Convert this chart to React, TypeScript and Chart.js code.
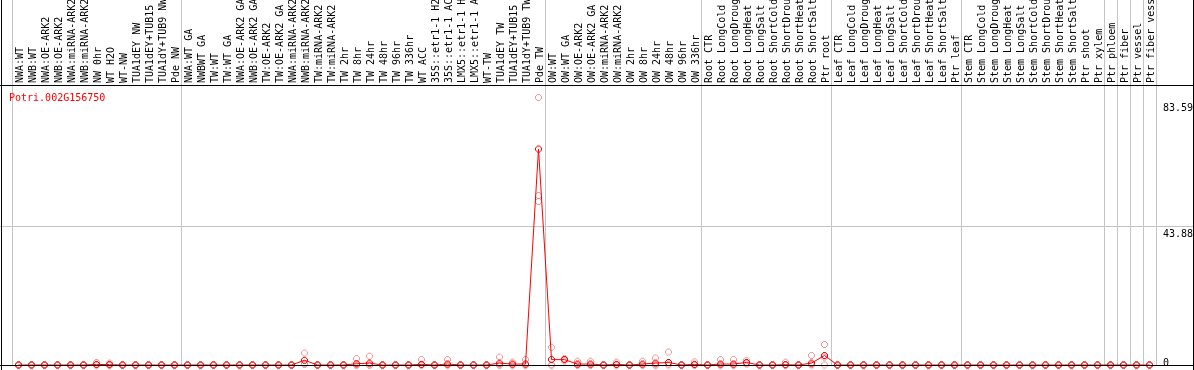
import { useEffect, useRef } from 'react';
import { Chart, registerables } from 'chart.js';

Chart.register(...registerables);

const geneId = 'Potri.002G156750';

const categories = [
  'NWA:WT', 'NWB:WT', 'NWA:OE-ARK2', 'NWB:OE-ARK2', 'NWA:miRNA-ARK2', 'NWB:miRNA-ARK2', 'NW 0hr', 'WT H2O', 'WT-NW', 'TUA1dEY NW', 'TUA1dEY+TUB15 NW', 'TUA1dY+TUB9 NW', 'Pde NW',
  'NWA:WT GA', 'NWBWT GA', 'TW:WT', 'TW:WT GA', 'NWA:OE-ARK2 GA', 'NWB:OE-ARK2 GA', 'TW:OE-ARK2', 'TW:OE-ARK2 GA', 'NWA:miRNA-ARK2', 'NWB:miRNA-ARK2', 'TW:miRNA-ARK2', 'TW:miRNA-ARK2',
  'TW 2hr', 'TW 8hr', 'TW 24hr', 'TW 48hr', 'TW 96hr', 'TW 336hr', 'WT ACC', '35S::etr1-1 H2O', '35S::etr1-1 ACC', 'LMX5::etr1-1 H2O', 'LMX5::etr1-1 ACC', 'WT-TW', 'TUA1dEY TW', 'TUA1dEY+TUB15 TW', 'TUA1dY+TUB9 TW', 'Pde TW',
  'OW:WT', 'OW:WT GA', 'OW:OE-ARK2', 'OW:OE-ARK2 GA', 'OW:miRNA-ARK2', 'OW:miRNA-ARK2', 'OW 2hr', 'OW 8hr', 'OW 24hr', 'OW 48hr', 'OW 96hr', 'OW 336hr',
  'Root CTR', 'Root LongCold', 'Root LongDrought', 'Root LongHeat', 'Root LongSalt', 'Root ShortCold', 'Root ShortDrought', 'Root ShortHeat', 'Root ShortSalt', 'Ptr root',
  'Leaf CTR', 'Leaf LongCold', 'Leaf LongDrought', 'Leaf LongHeat', 'Leaf LongSalt', 'Leaf ShortCold', 'Leaf ShortDrought', 'Leaf ShortHeat', 'Leaf ShortSalt', 'Ptr leaf',
  'Stem CTR', 'Stem LongCold', 'Stem LongDrought', 'Stem LongHeat', 'Stem LongSalt', 'Stem ShortCold', 'Stem ShortDrought', 'Stem ShortHeat', 'Stem ShortSalt', 'Ptr shoot', 'Ptr xylem',
  'Ptr phloem', 'Ptr fiber', 'Ptr vessel', 'Ptr fiber vessel',
];

// mean expression per sample
const meanValues = [
  0, 0, 0, 0, 0, 0, 0.2, 0.1, 0, 0, 0, 0, 0,
  0, 0, 0, 0, 0, 0, 0, 0, 0, 1.5, 0, 0,
  0, 0.4, 0.6, 0, 0, 0, 0.2, 0, 0.3, 0, 0, 0, 0.6, 0.3, 0.3, 68.3,
  1.7, 1.7, 0.3, 0.3, 0, 0.2, 0, 0.3, 0.6, 0.8, 0, 0.2,
  0, 0.3, 0.3, 0.8, 0, 0, 0.1, 0, 0.6, 3.0,
  0, 0, 0, 0, 0, 0, 0, 0, 0, 0,
  0, 0, 0, 0, 0, 0, 0, 0, 0, 0, 0,
  0, 0, 0, 0,
];

// replicate values
const rep1 = [
  0, 0, 0, 0, 0, 0, 0.8, 0.6, 0, 0, 0, 0, 0,
  0, 0, 0, 0, 0, 0, 0, 0, 0, 3.8, 0, 0,
  0, 2.0, 2.8, 0, 0, 0, 1.7, 0, 1.7, 0, 0, 0, 2.5, 0.9, 1.7, 84.6,
  5.6, 2.0, 1.2, 1.2, 0, 0.9, 0, 1.2, 2.2, 4.1, 0, 1.0,
  0, 1.7, 1.7, 1.5, 0, 0, 0.9, 0, 3.0, 6.5,
  0, 0, 0, 0, 0, 0, 0, 0, 0, 0,
  0, 0, 0, 0, 0, 0, 0, 0, 0, 0, 0,
  0, 0, 0, 0,
];
const rep2 = [
  0, 0, 0, 0, 0, 0, 0, 0, 0, 0, 0, 0, 0,
  0, 0, 0, 0, 0, 0, 0, 0, 0, 0.5, 0, 0,
  0, 0, 0, 0, 0, 0, 0, 0, 0, 0, 0, 0, 0, 0, 0, 53.6,
  0, 1.8, 0, 0, 0, 0, 0, 0, 0, 0.3, 0, 0,
  0, 0, 0, 0.6, 0, 0, 0, 0, 0.2, 2.5,
  0, 0, 0, 0, 0, 0, 0, 0, 0, 0,
  0, 0, 0, 0, 0, 0, 0, 0, 0, 0, 0,
  0, 0, 0, 0,
];
const rep3 = [
  0, 0, 0, 0, 0, 0, 0, 0, 0, 0, 0, 0, 0,
  0, 0, 0, 0, 0, 0, 0, 0, 0, 0.2, 0, 0,
  0, 0, 0, 0, 0, 0, 0, 0, 0, 0, 0, 0, 0, 0, 0, 51.7,
  0, 1.3, 0, 0, 0, 0, 0, 0, 0, 0, 0, 0,
  0, 0, 0, 0.3, 0, 0, 0, 0, 0, 0,
  0, 0, 0, 0, 0, 0, 0, 0, 0, 0,
  0, 0, 0, 0, 0, 0, 0, 0, 0, 0, 0,
  0, 0, 0, 0,
];

const yTickValues = [0, 43.88, 83.59];
const yGridValue = 43.88;
const groupSeparators = [-0.5, 12.5, 40.5, 52.5, 62.5, 72.5, 83.5, 84.5, 85.5, 86.5, 87.5];

const GRID = '#c4c4c4';
const RED = '#ff0000';
const PINK = 'rgba(236,130,130,0.8)';
const MONO = '"DejaVu Sans Mono", monospace';

// small pixel-art ring marker
const RING = [
  '.........',
  '...###...',
  '..#...#..',
  '.#.....#.',
  '.#.....#.',
  '.#.....#.',
  '..#...#..',
  '...###...',
  '.........',
];

function makeMarker(color: string) {
  const c = document.createElement('canvas');
  c.width = 9;
  c.height = 9;
  const g = c.getContext('2d')!;
  g.fillStyle = color;
  RING.forEach((row, y) => {
    for (let x = 0; x < row.length; x++) if (row[x] === '#') g.fillRect(x, y, 1, 1);
  });
  return c;
}

const framePlugin = {
  id: 'frame',
  beforeDraw(chart: any) {
    const { ctx, width, height } = chart;
    ctx.save();
    ctx.fillStyle = '#fff';
    ctx.fillRect(0, 0, width, height);
    ctx.restore();
  },
  afterDraw(chart: any) {
    const { ctx, width, height, chartArea } = chart;
    const ys = chart.scales.y;
    ctx.save();
    ctx.fillStyle = GRID;
    const gy = Math.round(ys.getPixelForValue(yGridValue) - 0.5);
    ctx.fillRect(0, gy, chartArea.left, 1);
    ctx.fillStyle = '#000';
    ctx.fillRect(1, 0, 1, height);
    ctx.fillRect(width - 1, 0, 1, height);
    ctx.fillRect(0, Math.floor(chartArea.top), width, 1);
    ctx.fillRect(0, Math.floor(chartArea.bottom), width, 1);
    ctx.fillStyle = RED;
    ctx.font = '10px ' + MONO;
    ctx.textBaseline = 'middle';
    ctx.textAlign = 'left';
    ctx.fillText(geneId, 9, 98);
    ctx.restore();
  },
};

export default function App() {
  const ref = useRef<HTMLCanvasElement>(null);

  useEffect(() => {
    const canvas = ref.current;
    if (!canvas) return;
    const meanMarker = makeMarker(RED);
    const repMarker = makeMarker(PINK);

    const meanData = meanValues.map((v, i) => ({ x: i, y: v }));
    const repData: { x: number; y: number }[] = [];
    [rep1, rep2, rep3].forEach((arr) => arr.forEach((v, i) => repData.push({ x: i, y: v })));

    const xTicks = [...categories.map((_, i) => i), ...groupSeparators].sort((a, b) => a - b);

    const chart = new Chart(canvas, {
      type: 'line',
      data: {
        datasets: [
          {
            label: 'mean',
            data: meanData,
            borderColor: RED,
            borderWidth: 1,
            pointStyle: meanMarker as any,
            pointRadius: 4,
            tension: 0,
            clip: false as any,
            order: 1,
          },
          {
            label: 'replicates',
            data: repData,
            showLine: false,
            pointStyle: repMarker as any,
            pointRadius: 4,
            clip: false as any,
            order: 2,
          },
        ],
      },
      options: {
        animation: false,
        responsive: false,
        devicePixelRatio: 1,
        layout: { padding: { left: 12, right: 0, top: 0, bottom: 1.5 } },
        plugins: { legend: { display: false }, tooltip: { enabled: false } },
        scales: {
          x: {
            type: 'linear',
            position: 'top',
            min: -0.5,
            max: 87.5,
            afterBuildTicks: (scale: any) => {
              scale.ticks = xTicks.map((v) => ({ value: v }));
            },
            afterFit: (scale: any) => {
              scale.height = 85;
              scale.paddingLeft = 0;
              scale.paddingRight = 0;
            },
            border: { display: false },
            grid: {
              color: (ctx: any) =>
                ctx.tick && !Number.isInteger(ctx.tick.value) ? GRID : 'rgba(0,0,0,0)',
              lineWidth: 1,
              drawTicks: true,
              tickLength: 85,
            },
            ticks: {
              autoSkip: false,
              minRotation: 90,
              maxRotation: 90,
              padding: -83,
              labelOffset: 12,
              color: '#000',
              font: { family: MONO, size: 10, lineHeight: 1 },
              callback: (v: any) => (Number.isInteger(v) ? categories[v] : ''),
            },
          },
          y: {
            type: 'linear',
            position: 'right',
            min: 0,
            max: 88.54,
            afterBuildTicks: (scale: any) => {
              scale.ticks = yTickValues.map((v) => ({ value: v }));
            },
            afterFit: (scale: any) => {
              scale.width = 38;
              scale.paddingTop = 0;
              scale.paddingBottom = 0;
            },
            border: { display: false },
            grid: {
              color: (ctx: any) => (ctx.tick && ctx.tick.value === yGridValue ? GRID : 'rgba(0,0,0,0)'),
              lineWidth: 1,
              drawTicks: true,
              tickLength: 38,
            },
            ticks: {
              padding: -31,
              labelOffset: 3,
              color: '#000',
              font: { family: MONO, size: 10, lineHeight: 1 },
              callback: (v: any) => (v === 0 ? ['0', ''] : ['', Number(v).toFixed(2)]),
            },
          },
        },
      },
      plugins: [framePlugin],
    });

    return () => chart.destroy();
  }, []);

  return (
    <div style={{ position: 'fixed', left: 0, top: 0, width: 1194, height: 370, background: '#fff' }}>
      <canvas ref={ref} width={1194} height={370} style={{ display: 'block', width: 1194, height: 370 }} />
    </div>
  );
}
